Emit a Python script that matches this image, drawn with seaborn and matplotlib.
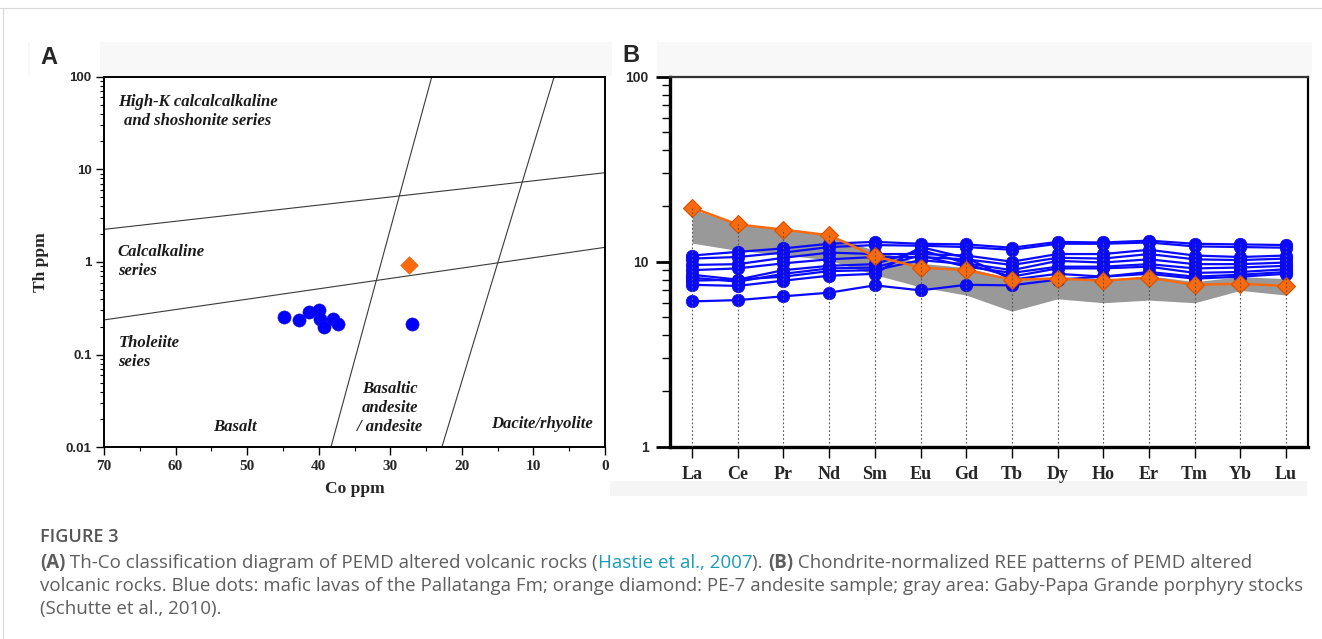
import numpy as np
import pandas as pd
import matplotlib
matplotlib.use("Agg")
import matplotlib.pyplot as plt
import seaborn as sns
from matplotlib.lines import Line2D
from matplotlib.patches import Rectangle
from matplotlib.ticker import FixedLocator, NullFormatter

# ---------------- Panel A data (Th-Co diagram) ----------------
co_lavas = [44.8, 42.8, 41.3, 40.0, 39.8, 39.2, 38.0, 37.3, 26.9]
th_lavas = [0.257, 0.237, 0.291, 0.303, 0.241, 0.200, 0.241, 0.212, 0.212]
co_pe7 = [27.4]
th_pe7 = [0.93]

bound_upper_co = [70, 0]
bound_upper_th = [2.25, 9.2]
bound_lower_co = [70, 0]
bound_lower_th = [0.237, 1.44]
bound_bas_co = [38.3, 24.2]
bound_bas_th = [0.01, 100]
bound_dac_co = [22.8, 7.1]
bound_dac_th = [0.01, 100]

a_xticks = [70, 60, 50, 40, 30, 20, 10, 0]
a_yticks = [0.01, 0.1, 1, 10, 100]
a_ylabels = ["0.01", "0.1", "1", "10", "100"]

# ---------------- Panel B data (REE patterns) ----------------
ree = ["La", "Ce", "Pr", "Nd", "Sm", "Eu", "Gd", "Tb", "Dy", "Ho", "Er", "Tm", "Yb", "Lu"]
lava_1 = [10.8, 11.3, 11.8, 12.5, 12.8, 12.5, 12.4, 11.9, 12.8, 12.7, 13.0, 12.5, 12.4, 12.3]
lava_2 = [10.4, 10.6, 11.2, 12.0, 12.3, 12.2, 12.0, 11.6, 12.5, 12.5, 12.7, 12.1, 12.0, 11.9]
lava_3 = [9.6, 9.7, 10.5, 11.2, 11.0, 11.0, 10.8, 10.0, 11.0, 11.0, 11.6, 10.8, 10.6, 10.8]
lava_4 = [9.0, 9.2, 9.8, 10.3, 10.6, 10.6, 10.3, 9.6, 10.5, 10.4, 11.0, 10.3, 10.2, 10.4]
lava_5 = [8.5, 8.0, 9.0, 9.5, 9.7, 11.6, 9.8, 9.0, 10.1, 9.9, 10.3, 9.7, 9.7, 9.9]
lava_6 = [8.2, 7.8, 8.6, 9.2, 9.3, 10.8, 9.4, 8.7, 9.4, 9.4, 9.7, 9.2, 9.3, 9.5]
lava_7 = [7.9, 8.0, 8.3, 8.9, 9.0, 10.2, 9.7, 8.3, 9.2, 9.2, 9.4, 8.7, 8.8, 9.1]
lava_8 = [7.5, 7.4, 7.9, 8.4, 8.6, 12.0, 10.5, 8.0, 8.6, 8.3, 8.8, 8.3, 8.5, 8.8]
lava_9 = [6.1, 6.2, 6.5, 6.8, 7.45, 7.0, 7.5, 7.45, 8.0, 8.3, 8.6, 8.1, 8.3, 8.6]
pe7_ree = [19.6, 15.9, 14.9, 13.9, 10.7, 9.3, 9.0, 8.0, 8.1, 7.9, 8.2, 7.5, 7.6, 7.4]
gaby_upper = [19.3, 15.9, 14.9, 13.9, 11.5, 9.8, 9.3, 8.1, 8.3, 8.0, 8.4, 7.8, 8.3, 8.1]
gaby_lower = [12.6, 11.5, 10.9, 10.2, 8.5, 7.3, 6.6, 5.4, 6.3, 6.0, 6.2, 6.0, 7.0, 6.6]
b_yticks = [1, 10, 100]
b_ylabels = ["1", "10", "100"]

# ---------------- figure ----------------
W, H = 1322, 639
sns.set_style("white")
plt.rcParams["font.family"] = ["DejaVu Sans"]
fig = plt.figure(figsize=(W / 100, H / 100), dpi=100)
fig.patch.set_facecolor("white")

SERIF = "Liberation Serif"
SANS = "Liberation Sans"

def fx(px):
    return px / W

def fy(py):
    return 1 - py / H

# faint background strips / borders of the scanned figure
fig.add_artist(Rectangle((fx(28), fy(76)), fx(1284), 34 / H, color="#f8f8f8", lw=0, zorder=-5))
fig.add_artist(Rectangle((fx(30), fy(76)), fx(70), 34 / H, color="white", lw=0, zorder=-4))
fig.add_artist(Rectangle((fx(612), fy(76)), fx(45), 34 / H, color="white", lw=0, zorder=-4))
fig.add_artist(Rectangle((fx(610), fy(496)), fx(697), 15 / H, color="#f5f5f5", lw=0, zorder=-5))
fig.add_artist(Line2D([0, 1], [fy(8), fy(8)], color="#d8d8d8", lw=0.8))
fig.add_artist(Line2D([fx(2.5), fx(2.5)], [0, fy(8)], color="#d8d8d8", lw=0.8))

# ---------------- Panel A ----------------
axA = fig.add_axes([fx(104), fy(447.3), fx(605 - 104), (447.3 - 76.7) / H])
axA.set_facecolor("white")
axA.set_yscale("log")
axA.set_xlim(70, 0)
axA.set_ylim(0.01, 100)

for cx, cy in [(bound_upper_co, bound_upper_th), (bound_lower_co, bound_lower_th),
               (bound_bas_co, bound_bas_th), (bound_dac_co, bound_dac_th)]:
    axA.plot(cx, cy, color="#3a3a3a", lw=0.8, zorder=2)

dfA = pd.DataFrame({"Co": co_lavas, "Th": th_lavas})
sns.scatterplot(data=dfA, x="Co", y="Th", ax=axA, color="#0000ff", s=90,
                edgecolor="#1515c8", linewidth=0.4, zorder=4)
dfP = pd.DataFrame({"Co": co_pe7, "Th": th_pe7})
sns.scatterplot(data=dfP, x="Co", y="Th", ax=axA, color="#fb6a0c", marker="D",
                s=80, edgecolor="#e35a05", linewidth=0.4, zorder=4)

axA.xaxis.set_major_locator(FixedLocator(a_xticks))
axA.xaxis.set_minor_locator(FixedLocator([65, 55, 45, 35, 25, 15, 5]))
axA.set_xticklabels([str(v) for v in a_xticks], fontfamily=SERIF, fontweight="bold", fontsize=11)
axA.yaxis.set_major_locator(FixedLocator(a_yticks))
minors = [m * 10.0 ** e for e in range(-2, 2) for m in range(2, 10)]
axA.yaxis.set_minor_locator(FixedLocator(minors))
axA.yaxis.set_minor_formatter(NullFormatter())
axA.set_yticklabels(a_ylabels, fontfamily=SANS, fontweight="bold", fontsize=9.5)
axA.tick_params(axis="both", which="major", direction="out", length=6, width=1.0, color="black", pad=3)
axA.tick_params(axis="both", which="minor", direction="out", length=3, width=0.8, color="black")
axA.tick_params(axis="x", which="both", bottom=True, top=False)
axA.tick_params(axis="y", which="both", left=True, right=False)
for sp in axA.spines.values():
    sp.set_visible(True)
    sp.set_color("black")
    sp.set_linewidth(1.4)
axA.set_xlabel("Co ppm", fontfamily=SERIF, fontweight="bold", fontsize=12.5, labelpad=6)
axA.set_ylabel("Th ppm", fontfamily=SERIF, fontweight="bold", fontsize=12.5, labelpad=12)
axA.grid(False)

region_font = dict(fontfamily=SERIF, fontweight="bold", fontstyle="italic", fontsize=12, color="#1a1a1a")
axA.text(68.0, 53.7, "High-K calcalcalkaline", ha="left", va="center", **region_font)
axA.text(67.2, 33.5, "and shoshonite series", ha="left", va="center", **region_font)
axA.text(68.1, 1.29, "Calcalkaline", ha="left", va="center", **region_font)
axA.text(68.1, 0.805, "series", ha="left", va="center", **region_font)
axA.text(68.0, 0.1345, "Tholeiite", ha="left", va="center", **region_font)
axA.text(68.1, 0.083, "seies", ha="left", va="center", **region_font)
axA.text(51.7, 0.0167, "Basalt", ha="center", va="center", **region_font)
axA.text(30.05, 0.0423, "Basaltic", ha="center", va="center", **region_font)
axA.text(30.05, 0.0264, "andesite", ha="center", va="center", **region_font)
axA.text(30.05, 0.0167, "/ andesite", ha="center", va="center", **region_font)
axA.text(8.85, 0.0178, "Dacite/rhyolite", ha="center", va="center", **region_font)

# ---------------- Panel B ----------------
axB = fig.add_axes([fx(669.7), fy(446.7), fx(1308 - 669.7), (446.7 - 76.7) / H])
axB.set_facecolor("white")
axB.set_yscale("log")
pos = np.arange(len(ree))
axB.set_xlim(-0.49, 13.48)
axB.set_ylim(1, 100)

axB.fill_between(pos, gaby_lower, gaby_upper, color="#999999", lw=0, zorder=1)

lavas = [lava_1, lava_2, lava_3, lava_4, lava_5, lava_6, lava_7, lava_8, lava_9]
rows = []
for i, ser in enumerate(lavas):
    for j, v in enumerate(ser):
        rows.append({"sample": f"L{i+1}", "pos": j, "val": v})
dfB = pd.DataFrame(rows)
sns.lineplot(data=dfB, x="pos", y="val", units="sample", estimator=None, ax=axB,
             color="#0a0aff", lw=1.6, marker="o", markersize=9,
             markeredgecolor="#0a0ad8", markeredgewidth=0.5, zorder=3, legend=False)
dfO = pd.DataFrame({"pos": pos, "val": pe7_ree})
sns.lineplot(data=dfO, x="pos", y="val", ax=axB, color="#f86a10", lw=1.8, marker="D",
             markersize=9, markeredgecolor="#d95000", markeredgewidth=0.8, zorder=4, legend=False)

tops = np.max(np.vstack(lavas + [pe7_ree, gaby_upper]), axis=0)
axB.vlines(pos, 1, tops, colors="#555555", linestyles=(0, (1.5, 2.0)), lw=0.8, zorder=5)

axB.xaxis.set_major_locator(FixedLocator(pos))
axB.set_xticklabels(ree, fontfamily=SERIF, fontweight="bold", fontsize=13)
axB.yaxis.set_major_locator(FixedLocator(b_yticks))
minorsB = [m * 10.0 ** e for e in range(0, 2) for m in range(2, 10)]
axB.yaxis.set_minor_locator(FixedLocator(minorsB))
axB.yaxis.set_minor_formatter(NullFormatter())
axB.set_yticklabels(b_ylabels, fontfamily=SANS, fontweight="bold", fontsize=10)
axB.tick_params(axis="y", which="major", direction="out", length=10, width=2.0, color="black", pad=5,
                left=True, right=False)
axB.tick_params(axis="y", which="minor", direction="out", length=6, width=1.0, color="black",
                left=True, right=False)
axB.tick_params(axis="x", which="major", direction="out", length=8, width=1.0, color="black", pad=6,
                bottom=True, top=False)
axB.set_xlabel("")
axB.set_ylabel("")
axB.grid(False)
for name, sp in axB.spines.items():
    sp.set_visible(True)
    sp.set_color("black")
axB.spines["left"].set_linewidth(2.4)
axB.spines["bottom"].set_linewidth(2.4)
axB.spines["top"].set_linewidth(1.6)
axB.spines["top"].set_color("#333333")
axB.spines["right"].set_linewidth(1.6)

# panel letters
fig.text(fx(40), fy(57), "A", fontfamily=SANS, fontweight="bold", fontsize=17, ha="left", va="center")
fig.text(fx(622), fy(56), "B", fontfamily=SANS, fontweight="bold", fontsize=17, ha="left", va="center")

# ---------------- caption ----------------
CAP = "Open Sans"
GRAY = "#5e5e5e"
TEAL = "#1a9bb8"
fig.canvas.draw()
renderer = fig.canvas.get_renderer()

def runs(x_px, y_px, parts, size):
    x = x_px
    for txt, color, weight in parts:
        t = fig.text(fx(x), fy(y_px), txt, color=color, fontweight=weight, fontsize=size,
                     fontfamily=CAP, ha="left", va="center")
        bb = t.get_window_extent(renderer=renderer)
        x += bb.width

CS = 13.5
runs(40, 537, [("FIGURE 3", "#555555", "semibold")], 13.0)
runs(40, 563, [("(A)", GRAY, "bold"),
               (" Th-Co classification diagram of PEMD altered volcanic rocks (", GRAY, "normal"),
               ("Hastie et al., 2007", TEAL, "normal"),
               ("). ", GRAY, "normal"),
               ("(B)", GRAY, "bold"),
               (" Chondrite-normalized REE patterns of PEMD altered", GRAY, "normal")], CS)
runs(40, 586, [("volcanic rocks. Blue dots: mafic lavas of the Pallatanga Fm; orange diamond: PE-7 andesite sample; gray area: Gaby-Papa Grande porphyry stocks", GRAY, "normal")], CS)
runs(40, 609, [("(Schutte et al., 2010).", GRAY, "normal")], CS)

fig.savefig("out.png", dpi=100, facecolor="white")
